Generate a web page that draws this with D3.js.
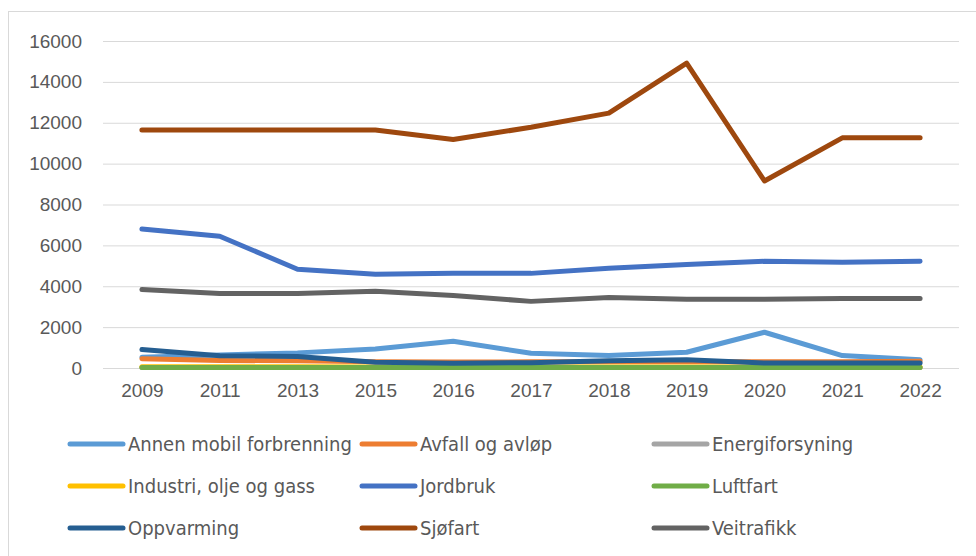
<!DOCTYPE html>
<html>
<head>
<meta charset="utf-8">
<script src="https://cdn.jsdelivr.net/npm/d3@7"></script>
<style>
  body { margin: 0; background: #fff; }
  text { font-family: "Liberation Sans", Arial, sans-serif; fill: #595959; }
  .legend text { font-family: "Liberation Sans Narrow", "DejaVu Sans Condensed", "Liberation Sans", sans-serif; }
</style>
</head>
<body>
<div id="chart"></div>
<script>
const width = 976
const height = 556
const margin = { top: 41, right: 17, bottom: 188, left: 103 }

const years = ["2009", "2011", "2013", "2015", "2016", "2017", "2018", "2019", "2020", "2021", "2022"]
const yTicks = [0, 2000, 4000, 6000, 8000, 10000, 12000, 14000, 16000]

const seriesNames = ["Annen mobil forbrenning", "Avfall og avløp", "Energiforsyning",
    "Industri, olje og gass", "Jordbruk", "Luftfart", "Oppvarming", "Sjøfart", "Veitrafikk"]
const seriesColors = ["#5B9BD5", "#ED7D31", "#A5A5A5", "#FFC000", "#4472C4", "#70AD47", "#255E91", "#9E480E", "#636363"]

const annenMobil = [530, 640, 740, 930, 1310, 720, 610, 770, 1750, 610, 400]
const avfall = [450, 370, 350, 300, 290, 300, 300, 310, 300, 310, 330]
const energi = [30, 30, 30, 30, 30, 30, 30, 30, 30, 30, 30]
const industri = [60, 60, 60, 50, 50, 50, 50, 50, 50, 50, 50]
const jordbruk = [6800, 6450, 4830, 4590, 4630, 4630, 4880, 5070, 5220, 5180, 5220]
const luftfart = [20, 20, 20, 20, 20, 20, 20, 20, 20, 20, 20]
const oppvarming = [900, 600, 560, 280, 230, 260, 360, 400, 240, 240, 240]
const sjofart = [11650, 11650, 11650, 11650, 11180, 11780, 12470, 14920, 9150, 11260, 11260]
const veitrafikk = [3840, 3650, 3650, 3750, 3550, 3260, 3450, 3360, 3360, 3400, 3400]

const seriesValues = [annenMobil, avfall, energi, industri, jordbruk, luftfart, oppvarming, sjofart, veitrafikk]

const svg = d3.select("#chart")
    .append("svg")
    .attr("width", width)
    .attr("height", height)

// chart border
svg.append("rect")
    .attr("x", 8.5)
    .attr("y", 11.5)
    .attr("width", width)
    .attr("height", height)
    .style("fill", "none")
    .style("stroke", "#d9d9d9")

const plotW = width - margin.left - margin.right
const plotH = height - margin.top - margin.bottom

const g = svg.append("g")
    .attr("transform", "translate(" + margin.left + "," + margin.top + ")")

const x = d3.scalePoint()
    .domain(years)
    .range([0, plotW])
    .padding(0.5)

const y = d3.scaleLinear()
    .domain([0, 16000])
    .range([plotH, 0])

// gridlines + y labels
const yAxis = g.append("g")
    .call(d3.axisLeft(y).tickValues(yTicks).tickSize(-plotW).tickFormat(d3.format("d")).tickPadding(21))
yAxis.select(".domain").remove()
yAxis.selectAll(".tick line").style("stroke", "#d9d9d9").style("stroke-width", 1)
yAxis.selectAll(".tick text").style("font-size", "19px").style("fill", "#595959")

const xAxis = g.append("g")
    .attr("transform", "translate(0," + plotH + ")")
    .call(d3.axisBottom(x).tickSize(0).tickPadding(16))
xAxis.select(".domain").remove()
xAxis.selectAll(".tick text").style("font-size", "19px").style("fill", "#595959")

const line = d3.line()
    .x((d, i) => x(years[i]))
    .y(d => y(d))

g.selectAll(".series")
    .data(seriesValues)
    .join("path")
    .attr("class", "series")
    .attr("d", d => line(d))
    .style("fill", "none")
    .style("stroke", (d, i) => seriesColors[i])
    .style("stroke-width", 5)
    .style("stroke-linejoin", "round")
    .style("stroke-linecap", "round")

// legend
const colX = [68, 360, 652]
const rowY = [444, 486, 528]
const legend = svg.append("g").attr("class", "legend")
const items = legend.selectAll("g")
    .data(seriesNames)
    .join("g")
    .attr("transform", (d, i) => "translate(" + colX[i % 3] + "," + rowY[Math.floor(i / 3)] + ")")
items.append("line")
    .attr("x1", 2).attr("x2", 55)
    .attr("y1", 0).attr("y2", 0)
    .style("stroke", (d, i) => seriesColors[i])
    .style("stroke-width", 5)
    .style("stroke-linecap", "round")
items.append("text")
    .attr("x", 60)
    .attr("y", 0)
    .attr("dy", "0.35em")
    .style("font-size", "20px")
    .text(d => d)
</script>
</body>
</html>
